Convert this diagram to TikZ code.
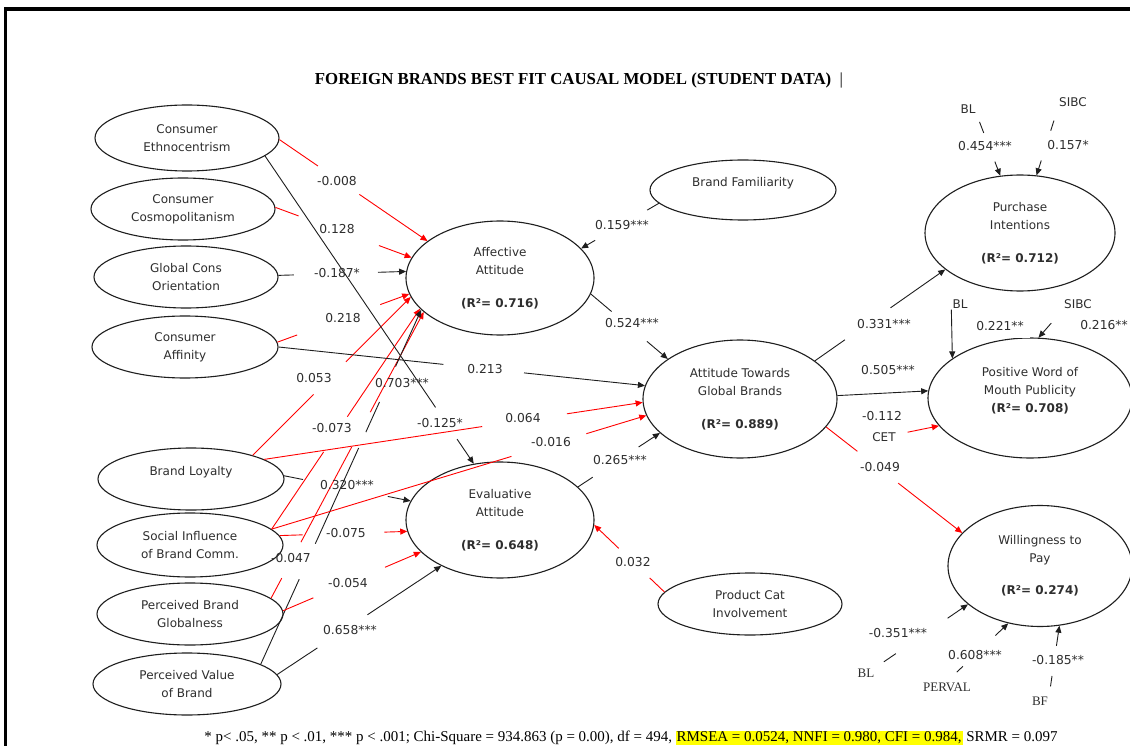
\documentclass[tikz,border=0pt]{standalone}
\usepackage{fontspec}
\usepackage{graphicx}
\setmainfont{DejaVu Sans}
\newfontfamily\titlefont{Liberation Serif}
\newfontfamily\serifsrc{Liberation Serif}
\usetikzlibrary{shapes.geometric,arrows.meta,calc}

\definecolor{ink}{HTML}{1E1E1E}
\definecolor{txtgray}{HTML}{2E2E2E}
\definecolor{pathred}{HTML}{FF0000}
\definecolor{hlyellow}{HTML}{FFFF00}

% one visible piece of a connector, between two fractions of the way from #2 to #3
\newcommand{\edgepart}[5]{\draw[#1] ($(#2)!#4!(#3)$) -- ($(#2)!#5!(#3)$);}

\tikzset{
  ell/.style={draw=ink, ellipse, line width=1.1pt, inner sep=0pt, align=center,
    text=txtgray, font={\fontsize{12}{18}\selectfont}},
  plain/.style={text=txtgray, inner sep=1pt, font={\fontsize{12}{18}\selectfont}},
  coef/.style={text=txtgray, inner sep=1pt, font={\fontsize{12.3}{14}\selectfont}},
  srcsans/.style={text=txtgray, inner sep=1pt, font={\fontsize{12}{14}\selectfont}},
  srcserif/.style={text=txtgray, inner sep=1pt, font={\serifsrc\fontsize{13}{15}\selectfont}},
  bline/.style={draw=ink, line width=0.9pt},
  rline/.style={draw=pathred, line width=0.9pt},
  tip/.style={-{Triangle[length=7pt,width=6pt]}}
}

\begin{document}
\begin{tikzpicture}[x=1pt,y=-1pt]
\clip (0,0) rectangle (1130,746);
\fill[white] (0,0) rectangle (1130,746);

% frame
\draw[line width=3.2pt, black] (5.5,746) -- (5.5,9) -- (1130,9);

% title
\node (title) at (579,80) {\resizebox{528pt}{!}{\titlefont\bfseries FOREIGN BRANDS BEST FIT CAUSAL MODEL (STUDENT DATA)\ \ \mdseries|}};

% exogenous constructs
\node[ell, minimum width=184pt, minimum height=66pt] (ce) at (187,138) {Consumer\\Ethnocentrism};
\node[ell, minimum width=184pt, minimum height=62pt] (cc) at (183,209) {Consumer\\Cosmopolitanism};
\node[ell, minimum width=184pt, minimum height=62pt] (gco) at (186,277) {Global Cons\\Orientation};
\node[ell, minimum width=186pt, minimum height=62pt] (ca) at (185,347) {Consumer\\Affinity};
\node[ell, minimum width=186pt, minimum height=62pt] (bl) at (191,479) {};
\node[plain] (blt) at (191,472) {Brand Loyalty};
\node[ell, minimum width=186pt, minimum height=64pt] (sibc) at (190,545) {Social Influence\\of Brand Comm.};
\node[ell, minimum width=186pt, minimum height=62pt] (pbg) at (190,614) {Perceived Brand\\Globalness};
\node[ell, minimum width=188pt, minimum height=62pt] (pvb) at (187,684) {Perceived Value\\of Brand};
\node[ell, minimum width=186pt, minimum height=60pt] (bfam) at (743,190) {};
\node[plain] (bfamt) at (743,183) {Brand Familiarity};
\node[ell, minimum width=184pt, minimum height=62pt] (pci) at (750,604) {Product Cat\\Involvement};

% endogenous constructs
\node[ell, minimum width=188pt, minimum height=114pt] (aa) at (500,278) {Affective\\Attitude\\[15pt]\textbf{(R²= 0.716)}};
\node[ell, minimum width=188pt, minimum height=116pt] (ea) at (500,520) {Evaluative\\Attitude\\[15pt]\textbf{(R²= 0.648)}};
\node[ell, minimum width=194pt, minimum height=118pt] (atgb) at (740,399) {Attitude Towards\\Global Brands\\[15pt]\textbf{(R²= 0.889)}};
\node[ell, minimum width=190pt, minimum height=116pt] (pi) at (1020,233) {Purchase\\Intentions\\[15pt]\textbf{(R²= 0.712)}};
\node[ell, minimum width=204pt, minimum height=120pt] (pwom) at (1030,398) {};
\node[plain, align=center] (pwomt) at (1030,391) {Positive Word of\\Mouth Publicity\\\textbf{(R²= 0.708)}};
\node[ell, minimum width=184pt, minimum height=121pt] (wtp) at (1040,566) {Willingness to\\Pay\\[14pt]\textbf{(R²= 0.274)}};

% small source labels
\node[srcsans] (blpi) at (968,109) {BL};
\node[srcsans] (sbpi) at (1073,102) {SIBC};
\node[srcsans] (blwm) at (960,304) {BL};
\node[srcsans] (sbwm) at (1078,304) {SIBC};
\node[srcsans, inner sep=2pt] (cet) at (884,437) {CET};
\node[srcserif] (blwp) at (866,673) {BL};
\node[srcserif] (perval) at (947,687) {PERVAL};
\node[srcserif] (bfwp) at (1040,701) {BF};

% paths into Affective Attitude
\edgepart{rline}{ce.359}{aa.153}{0}{0.26}
\edgepart{rline,tip}{ce.359}{aa.153}{0.54}{1}
\edgepart{rline}{cc.1}{aa.167}{0}{0.17}
\edgepart{rline,tip}{cc.1}{aa.167}{0.76}{1}
\edgepart{bline}{gco.1}{aa.176}{0}{0.12}
\edgepart{bline,tip}{gco.1}{aa.176}{0.78}{1}
\edgepart{rline}{ca.3}{aa.190}{0}{0.15}
\edgepart{rline,tip}{ca.3}{aa.190}{0.78}{1}
\edgepart{rline}{bl.21}{aa.192}{0}{0.385}
\edgepart{rline,tip}{bl.21}{aa.192}{0.59}{1}
\edgepart{rline}{sibc.11}{aa.201}{0}{0.35}
\edgepart{rline,tip}{sibc.11}{aa.201}{0.51}{1}
\edgepart{rline}{pbg.11}{aa.204}{0}{0.07}
\edgepart{rline}{pbg.11}{aa.204}{0.196}{0.528}
\edgepart{rline,tip}{pbg.11}{aa.204}{0.65}{1}
\edgepart{bline}{pvb.15}{aa.202}{0}{0.24}
\edgepart{bline}{pvb.15}{aa.202}{0.34}{0.61}
\edgepart{bline}{pvb.15}{aa.202}{0.655}{0.74}
\edgepart{bline,tip}{pvb.15}{aa.202}{0.84}{1}
\edgepart{bline}{bfam.189}{aa.20}{0}{0.15}
\edgepart{bline,tip}{bfam.189}{aa.20}{0.82}{1}

% paths into Evaluative Attitude
\edgepart{bline}{ce.347}{ea.115}{0}{0.817}
\edgepart{bline,tip}{ce.347}{ea.115}{0.92}{1}
\edgepart{bline}{bl.2}{ea.168}{0}{0.15}
\edgepart{bline,tip}{bl.2}{ea.168}{0.82}{1}
\edgepart{rline}{sibc.6}{ea.187}{0}{0.18}
\edgepart{rline,tip}{sibc.6}{ea.187}{0.82}{1}
\edgepart{rline}{pbg.2}{ea.202}{0}{0.22}
\edgepart{rline,tip}{pbg.2}{ea.202}{0.74}{1}
\edgepart{bline}{pvb.6}{ea.218}{0}{0.245}
\edgepart{bline,tip}{pvb.6}{ea.218}{0.55}{1}
\edgepart{rline}{pci.172}{ea.357}{0}{0.21}
\edgepart{rline,tip}{pci.172}{ea.357}{0.65}{1}

% paths into Attitude Towards Global Brands
\edgepart{bline}{aa.350}{atgb.151}{0}{0.27}
\edgepart{bline,tip}{aa.350}{atgb.151}{0.73}{1}
\edgepart{bline}{ca.0}{atgb.172}{0}{0.45}
\edgepart{bline,tip}{ca.0}{atgb.172}{0.67}{1}
\edgepart{rline}{bl.15}{atgb.182}{0}{0.576}
\edgepart{rline,tip}{bl.15}{atgb.182}{0.80}{1}
\edgepart{rline}{sibc.11}{atgb.190}{0}{0.64}
\edgepart{rline,tip}{sibc.11}{atgb.190}{0.84}{1}
\edgepart{bline}{ea.23}{atgb.203}{0}{0.18}
\edgepart{bline,tip}{ea.23}{atgb.203}{0.74}{1}

% paths out of Attitude Towards Global Brands
\edgepart{bline}{atgb.27}{pi.206}{0}{0.23}
\edgepart{bline,tip}{atgb.27}{pi.206}{0.58}{1}
\draw[bline,tip] (atgb.2) -- (pwom.176);
\edgepart{rline}{atgb.342}{wtp.157}{0}{0.23}
\edgepart{rline,tip}{atgb.342}{wtp.157}{0.53}{1}
\draw[rline,tip,shorten <=10pt] (cet) -- (pwom.197);

% control paths on the outcomes
\edgepart{bline}{blpi.south east}{pi.109}{0.12}{0.3}
\edgepart{bline,tip}{blpi.south east}{pi.109}{0.77}{1}
\edgepart{bline}{sbpi.south west}{pi.74}{0.19}{0.34}
\edgepart{bline,tip}{sbpi.south west}{pi.74}{0.78}{1}
\draw[bline,tip] (blwm.south west) -- (pwom.153);
\edgepart{bline,tip}{sbwm.south west}{pwom.82}{0.48}{1}
\edgepart{bline}{blwp.north east}{wtp.208}{0.09}{0.22}
\edgepart{bline,tip}{blwp.north east}{wtp.208}{0.78}{1}
\edgepart{bline}{perval.north}{wtp.241}{0.16}{0.26}
\edgepart{bline,tip}{perval.north}{wtp.241}{0.79}{1}
\edgepart{bline}{bfwp.north east}{wtp.288}{0.13}{0.28}
\edgepart{bline,tip}{bfwp.north east}{wtp.288}{0.71}{1}

% path coefficients
\node[coef] (c1) at (337,181) {-0.008};
\node[coef] (c2) at (337,229) {0.128};
\node[coef] (c3) at (337,273) {-0.187*};
\node[coef] (c4) at (343,318) {0.218};
\node[coef] (c5) at (314,378) {0.053};
\node[coef] (c6) at (332,428) {-0.073};
\node[coef] (c7) at (291,558) {-0.047};
\node[coef] (c8) at (402,383) {0.703***};
\node[coef] (c9) at (622,225) {0.159***};
\node[coef] (c10) at (440,423) {-0.125*};
\node[coef] (c11) at (347,485) {0.320***};
\node[coef] (c12) at (346,533) {-0.075};
\node[coef] (c13) at (348,583) {-0.054};
\node[coef] (c14) at (350,630) {0.658***};
\node[coef] (c15) at (633,562) {0.032};
\node[coef] (c16) at (632,323) {0.524***};
\node[coef] (c17) at (485,369) {0.213};
\node[coef] (c18) at (523,418) {0.064};
\node[coef] (c19) at (551,442) {-0.016};
\node[coef] (c20) at (620,460) {0.265***};
\node[coef] (c21) at (884,324) {0.331***};
\node[coef] (c22) at (888,370) {0.505***};
\node[coef] (c23) at (880,467) {-0.049};
\node[coef] (c24) at (882,416) {-0.112};
\node[coef] (c25) at (985,146) {0.454***};
\node[coef] (c26) at (1068,145) {0.157*};
\node[coef, fill=white, inner xsep=6pt, inner ysep=7pt] (c27) at (1000,326) {0.221**};
\node[coef] (c28) at (1104,325) {0.216**};
\node[coef] (c29) at (898,633) {-0.351***};
\node[coef] (c30) at (975,655) {0.608***};
\node[coef] (c31) at (1058,660) {-0.185**};

% fit statistics
\node (note) at (631,738) {\resizebox{853pt}{!}{\titlefont\setlength{\fboxsep}{0.6pt}* p< .05, ** p < .01, *** p < .001; Chi-Square = 934.863 (p = 0.00), df = 494, \colorbox{hlyellow}{RMSEA = 0.0524, NNFI = 0.980, CFI = 0.984,} SRMR = 0.097}};
\end{tikzpicture}
\end{document}
